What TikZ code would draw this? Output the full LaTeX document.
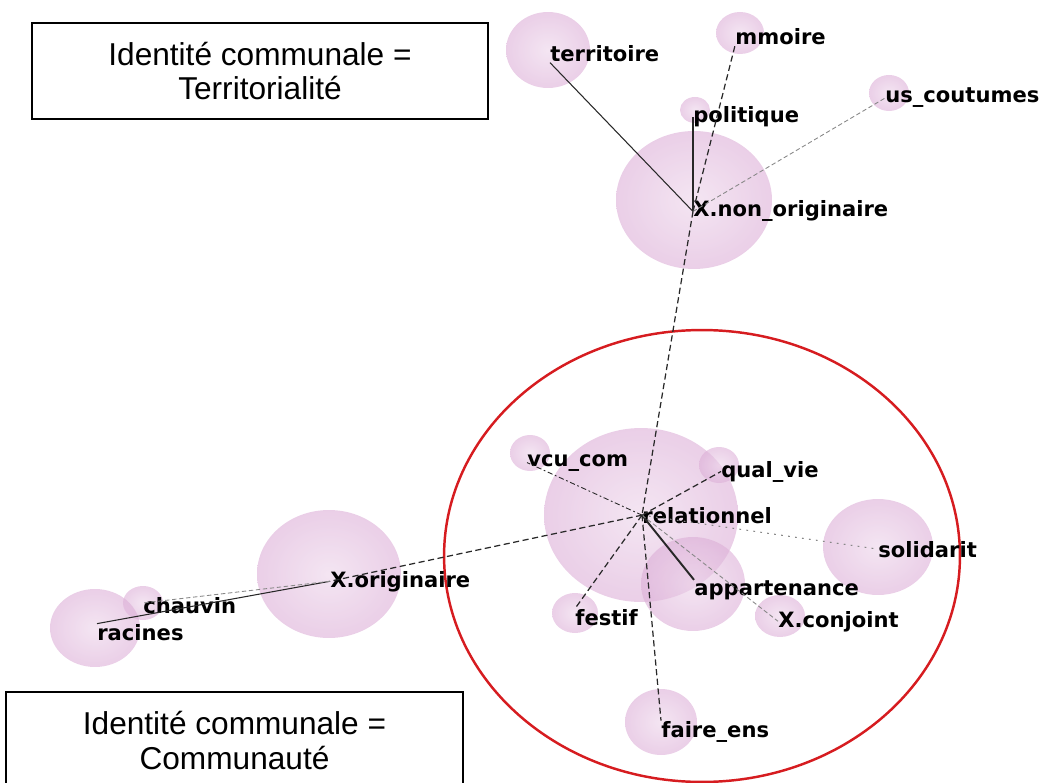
\documentclass[tikz,border=0pt]{standalone}
\usepackage{fontspec}
\setmainfont{Liberation Sans}
\newfontfamily\termfont{DejaVu Sans}
\usetikzlibrary{shapes.geometric}
\definecolor{ballpink}{RGB}{214,160,208}
\definecolor{ringred}{RGB}{214,28,32}
\definecolor{darklink}{RGB}{40,40,40}
\definecolor{lightlink}{RGB}{135,135,135}
\tikzset{
    ball/.style = {ellipse, inner sep = 0pt, fill opacity = 0.6, inner color = ballpink!45!white, outer color = ballpink!85!white},
    term/.style = {anchor = base west, inner sep = 0pt, font = {\fontsize{12}{14}\selectfont\termfont\bfseries}},
    caption box/.style = {draw, line width = 0.8pt, align = center, inner sep = 0pt, font = {\fontsize{18}{19.4}\selectfont}},
    ring/.style = {ellipse, draw = ringred, line width = 1.4pt, inner sep = 0pt},
}
\tikzset{
    solid link/.style = {draw = darklink, line width = 0.6pt},
    strong link/.style = {draw = darklink, line width = 1.1pt},
    dash link/.style = {draw = darklink, line width = 0.7pt, dash pattern = on 3.5pt off 2pt},
    faint link/.style = {draw = lightlink, line width = 0.5pt, dash pattern = on 2.5pt off 1.5pt},
    dot link/.style = {draw = lightlink, line width = 0.6pt, dash pattern = on 1pt off 3pt},
    dashdot link/.style = {draw = darklink, line width = 0.5pt, dash pattern = on 3pt off 1.5pt on 1pt off 1.5pt},
}

\begin{document}
\begin{tikzpicture}[x = 0.02cm, y = -0.02cm]
            \useasboundingbox (0, 0) rectangle (1057, 783);
            \clip (0, 0) rectangle (1057, 783);

            \node[ball, minimum width = 3.12cm, minimum height = 2.76cm] (X non ball) at (694, 200) {};
            \node[ball, minimum width = 1.68cm, minimum height = 1.52cm] (territoire ball) at (548, 50) {};
            \node[ball, minimum width = 0.96cm, minimum height = 0.84cm] (mmoire ball) at (740, 33) {};
            \node[ball, minimum width = 0.60cm, minimum height = 0.52cm] (politique ball) at (695, 110) {};
            \node[ball, minimum width = 0.80cm, minimum height = 0.72cm] (us coutumes ball) at (889, 93) {};

            \node[ball, minimum width = 3.88cm, minimum height = 3.48cm] (relationnel ball) at (641, 515) {};
            \node[ball, minimum width = 0.80cm, minimum height = 0.72cm] (vcu com ball) at (530, 453) {};
            \node[ball, minimum width = 0.80cm, minimum height = 0.72cm] (qual vie ball) at (719, 465) {};
            \node[ball, minimum width = 2.20cm, minimum height = 1.92cm] (solidarit ball) at (878, 547) {};
            \node[ball, minimum width = 2.08cm, minimum height = 1.88cm] (appartenance ball) at (693, 584) {};
            \node[ball, minimum width = 1.00cm, minimum height = 0.84cm] (X conjoint ball) at (780, 616) {};
            \node[ball, minimum width = 0.92cm, minimum height = 0.80cm] (festif ball) at (575, 613) {};
            \node[ball, minimum width = 1.44cm, minimum height = 1.32cm] (faire ens ball) at (661, 722) {};

            \node[ball, minimum width = 2.88cm, minimum height = 2.56cm] (X orig ball) at (329, 574) {};
            \node[ball, minimum width = 0.80cm, minimum height = 0.68cm] (chauvin ball) at (143, 603) {};
            \node[ball, minimum width = 1.80cm, minimum height = 1.56cm] (racines ball) at (95, 628) {};

            \node[ring, minimum width = 10.32cm, minimum height = 9.04cm] (communaute ring) at (702, 556) {};

            \node[caption box, minimum width = 9.12cm, minimum height = 1.92cm] (territorialite) at (260, 71) {Identité communale =\\Territorialité};
            \node[caption box, minimum width = 9.14cm, minimum height = 1.94cm] (communaute) at (234.5, 740.5) {Identité communale =\\Communauté};

            \node[term] (X non) at (693, 217) {X.non\_originaire};
            \node[term] (territoire) at (550, 62) {territoire};
            \node[term] (mmoire) at (735, 45) {mmoire};
            \node[term] (politique) at (693, 123) {politique};
            \node[term] (us coutumes) at (885, 103) {us\_coutumes};

            \node[term] (relationnel) at (642, 523) {relationnel};
            \node[term] (vcu com) at (527, 466) {vcu\_com};
            \node[term] (qual vie) at (721, 477) {qual\_vie};
            \node[term] (solidarit) at (878, 557) {solidarit};
            \node[term] (appartenance) at (694, 595) {appartenance};
            \node[term] (X conjoint) at (778, 627) {X.conjoint};
            \node[term] (festif) at (575, 625) {festif};
            \node[term] (faire ens) at (661, 737) {faire\_ens};

            \node[term] (X orig) at (330, 587) {X.originaire};
            \node[term] (chauvin) at (143, 613) {chauvin};
            \node[term] (racines) at (97, 640) {racines};

            \draw[solid link] (X non.west) -- (territoire.south west);
            \draw[dash link] (X non.west) -- (mmoire.south west);
            \draw[strong link] (X non.west) -- (politique.west);
            \draw[faint link] (X non.west) -- (us coutumes.west);
            \draw[dash link] (X non.west) -- (relationnel.west);

            \draw[dashdot link] (relationnel.west) -- (vcu com.west);
            \draw[dash link] (relationnel.west) -- (qual vie.west);
            \draw[dot link] (relationnel.west) -- (solidarit.west);
            \draw[strong link] (relationnel.west) -- (appartenance.north west);
            \draw[faint link] (relationnel.west) -- (X conjoint.west);
            \draw[dash link] (relationnel.west) -- (festif.north west);
            \draw[dash link] (relationnel.west) -- (faire ens.north west);
            \draw[dash link] (relationnel.west) -- (X orig.west);

            \draw[solid link] (X orig.west) -- (racines.north west);
            \draw[faint link] (X orig.west) -- (chauvin ball.center);
        \end{tikzpicture}
\end{document}
